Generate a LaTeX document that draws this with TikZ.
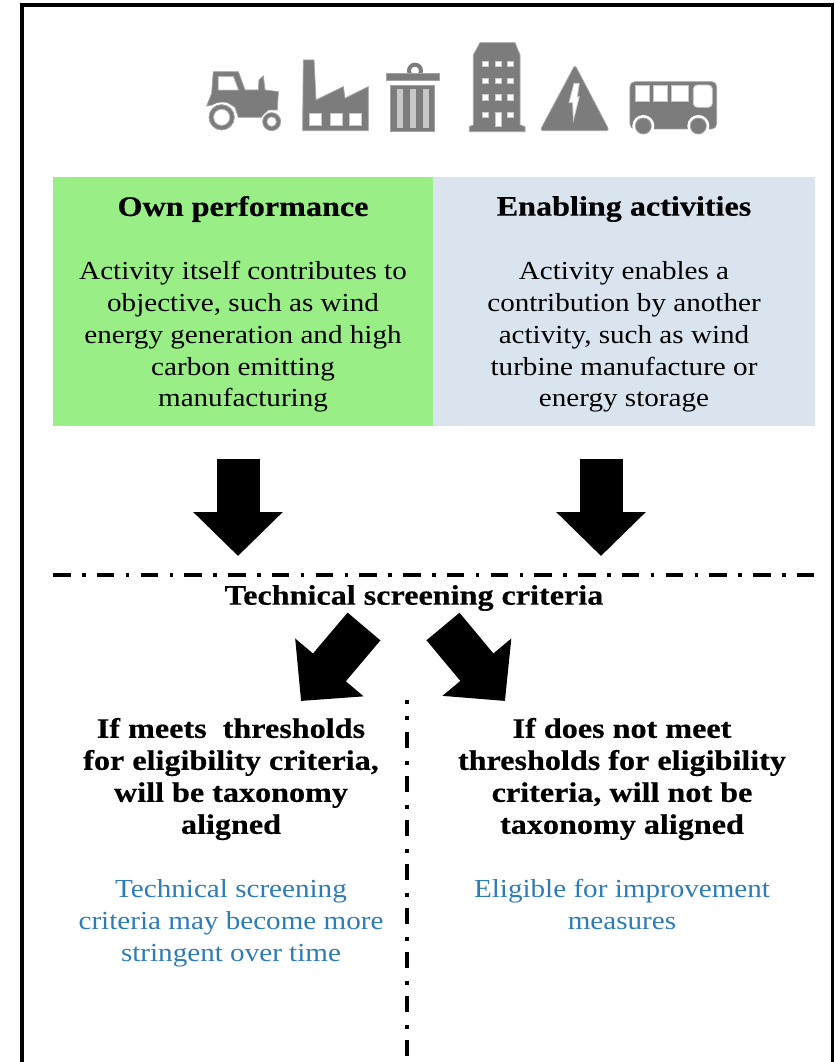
\documentclass[tikz,border=0pt]{standalone}
\usepackage{fontspec}
\setmainfont[FakeStretch=1.12,BoldFeatures={FakeStretch=1.14,FakeBold=0.5}]{Liberation Serif}
\usetikzlibrary{positioning,arrows.meta}

\definecolor{ownGreen}{HTML}{99EE85}
\definecolor{enableBlue}{HTML}{D9E4EE}
\definecolor{noteBlue}{HTML}{2E7CB5}
\definecolor{iconGray}{HTML}{7C7C7C}
\definecolor{iconPale}{HTML}{C8C8C8}

\tikzset{
    panel/.style={minimum height=249pt, inner sep=0pt, outer sep=0pt},
    bodytext/.style={inner sep=0pt, align=center, font=\fontsize{26}{31.8}\selectfont},
    headtext/.style={bodytext, font=\fontsize{28.2}{32}\selectfont\bfseries},
    notetext/.style={bodytext, text=noteBlue},
    blockarrow/.style={line width=43pt, -{Triangle[width=87pt,length=44pt]}},
    dashdotline/.style={line width=3.4pt, dash pattern=on 17.5pt off 11.5pt on 3.5pt off 11.26pt},
    splitline/.style={line width=3.6pt, dash pattern=on 16pt off 12.5pt on 4pt off 11.5pt},
    splitdots/.style={line width=3.6pt, dash pattern=on 4pt off 12pt},
    icon/.style={fill=iconGray, draw=iconGray!70, line width=0.8pt},
    iconhole/.style={fill=white, draw=iconPale, line width=0.8pt}
}

\begin{document}
\begin{tikzpicture}[x=1pt, y=-1pt]
    \useasboundingbox (0,0) rectangle (835,1062);

    \coordinate (frameA) at (22,1062);
    \coordinate (frameB) at (22,5);
    \coordinate (frameC) at (832.5,5);
    \coordinate (frameD) at (832.5,1062);
    \draw[line width=3.5pt] (frameA) -- (frameB) -- (frameC) -- (frameD);

    \begin{scope}[shift={(190,30)}, x=0.3333pt, y=-0.3333pt]
        \path[icon] (70,125) -- (145,125) -- (165,180) -- (205,180) -- (207,150) -- (220,138) -- (225,180) -- (265,185) -- (262,240) -- (235,240) -- (215,262) -- (145,262) -- (135,232) -- (110,217) -- (50,228) -- (65,190) -- cycle;
        \path[iconhole] (85,140) -- (130,140) -- (145,180) -- (85,180) -- cycle;
        \fill[white] (95,262) circle (45);
        \path[icon] (95,262) circle (38);
        \path[iconhole] (95,262) circle (24);
        \fill[white] (245,275) circle (32);
        \path[icon] (245,275) circle (27);
        \path[iconhole] (245,275) circle (14);

        \path[icon] (340,90) -- (372,90) -- (378,210) -- (460,170) -- (465,205) -- (535,170) -- (535,302) -- (338,302) -- cycle;
        \path[iconhole] (358,250) rectangle (395,285);
        \path[iconhole] (422,250) rectangle (458,285);
        \path[iconhole] (478,250) rectangle (515,285);

        \draw[iconGray, line width=4pt] (675,122) circle (18);
        \path[icon] (590,130) rectangle (748,152);
        \path[icon] (600,165) rectangle (732,305);
        \foreach \stripe in {620,660,700} {
            \fill[iconPale] (\stripe,178) rectangle ++(18,117);
        }
    \end{scope}

    \begin{scope}[shift={(460,30)}, x=0.3333pt, y=-0.3333pt]
        \path[icon] (60,38) -- (165,38) -- (180,75) -- (180,285) -- (195,290) -- (195,305) -- (28,305) -- (28,290) -- (40,285) -- (40,75) -- cycle;
        \foreach \winy in {102,152,202,255} {
            \foreach \winx in {75,115,150} {
                \path[iconhole] (\winx-9,\winy-8) rectangle ++(18,16);
            }
        }
        \fill[iconGray] (100,240) rectangle (130,285);
        \path[iconhole] (107,248) rectangle (123,290);

        \path[icon, rounded corners=3pt] (345,105) -- (448,302) -- (240,302) -- cycle;
        \path[iconhole] (342,160) -- (358,160) -- (352,200) -- (358,200) -- (340,272) -- (338,218) -- (327,218) -- cycle;

        \path[icon, rounded corners=5pt] (510,155) rectangle (770,297);
        \path[iconhole] (525,165) rectangle (567,215);
        \path[iconhole] (580,165) rectangle (622,215);
        \path[iconhole] (635,165) rectangle (685,215);
        \path[iconhole, rounded corners=4pt] (700,165) rectangle (757,232);
        \fill[white] (550,288) circle (33);
        \fill[white] (715,288) circle (33);
        \path[icon] (550,288) circle (24);
        \path[icon] (715,288) circle (24);
    \end{scope}

    \node[panel, minimum width=380pt, fill=ownGreen] (own) at (243,301.5) {};
    \node[panel, minimum width=382pt, fill=enableBlue, right=0pt of own] (enabling) {};

    \node[headtext] (ownTitle) at (243,209) {Own performance};
    \node[headtext] (enablingTitle) at (624,209) {Enabling activities};
    \node[bodytext] (ownText) at (243,337) {Activity itself contributes to\\objective, such as wind\\energy generation and high\\carbon emitting\\manufacturing};
    \node[bodytext] (enablingText) at (624,337) {Activity enables a\\contribution by another\\activity, such as wind\\turbine manufacture or\\energy storage};

    \coordinate (ownArrowTop) at (238,459);
    \coordinate (ownArrowTip) at (238,556);
    \coordinate (enablingArrowTop) at (601,459);
    \coordinate (enablingArrowTip) at (601,556);
    \draw[blockarrow] (ownArrowTop) -- (ownArrowTip);
    \draw[blockarrow] (enablingArrowTop) -- (enablingArrowTip);

    \coordinate (ruleLeft) at (53,575);
    \coordinate (ruleRight) at (815,575);
    \draw[dashdotline] (ruleLeft) -- (ruleRight);

    \node[headtext] (criteria) at (414,598) {Technical screening criteria};

    \coordinate (meetsArrowTop) at (364,626.5);
    \coordinate (meetsArrowTip) at (301,701);
    \coordinate (failsArrowTop) at (443,626.5);
    \coordinate (failsArrowTip) at (505,701);
    \draw[blockarrow] (meetsArrowTop) -- (meetsArrowTip);
    \draw[blockarrow] (failsArrowTop) -- (failsArrowTip);

    \coordinate (dotsTop) at (407,700);
    \coordinate (dotsBottom) at (407,720);
    \coordinate (splitTop) at (407,732);
    \coordinate (splitBottom) at (407,1056);
    \draw[splitdots] (dotsTop) -- (dotsBottom);
    \draw[splitline] (splitTop) -- (splitBottom);

    \node[headtext] (meets) at (231,779) {If meets~ thresholds\\for eligibility criteria,\\will be taxonomy\\aligned};
    \node[headtext] (fails) at (622,779) {If does not meet\\thresholds for eligibility\\criteria, will not be\\taxonomy aligned};
    \node[notetext] (meetsNote) at (231,923) {Technical screening\\criteria may become more\\stringent over time};
    \node[notetext] (failsNote) at (622,904.5) {Eligible for improvement\\measures};
\end{tikzpicture}
\end{document}
